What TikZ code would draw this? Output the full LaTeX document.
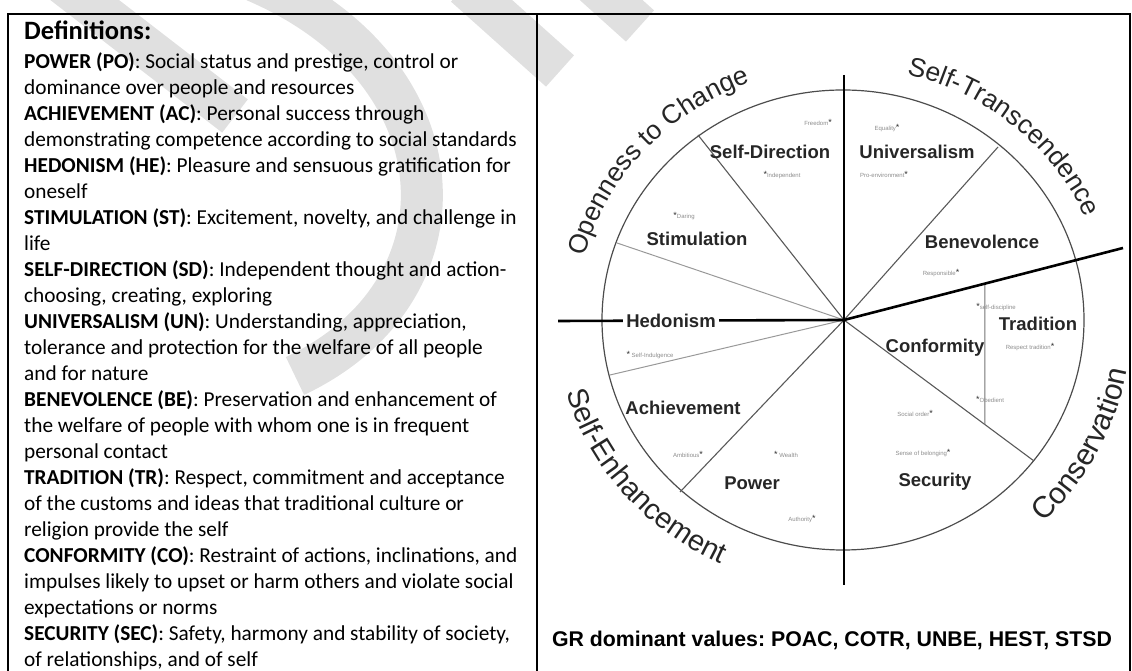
\documentclass[tikz,border=0pt]{standalone}
\usepackage{fontspec}
\setmainfont{Carlito}
\newfontfamily\arialfont{Liberation Sans}
\usetikzlibrary{calc,decorations.text}

\newcommand{\dotmark}{\textcolor{black!80}{\fontsize{9}{9}\selectfont*}}

\tikzset{
  value/.style={font=\arialfont\bfseries\fontsize{18.5}{20}\selectfont, text=black!85, inner sep=1pt},
  item/.style={font=\arialfont\fontsize{6}{7}\selectfont, text=black!45, inner sep=0pt},
  sector/.style={draw=black!65, line width=1.1pt},
  faint/.style={draw=black!40, line width=1pt},
  axis/.style={draw=black, line width=2.6pt},
  group/.style={decorate, decoration={text along path, text align=center, text color=black!85}},
  watermark/.style={draw=black!12, line width=42pt},
}

\begin{document}
\frenchspacing
\begin{tikzpicture}[x=1pt,y=1pt]
  \useasboundingbox (0,0) rectangle (1132,671);

  % watermark behind everything
  \draw[watermark] (60,690) -- (235,555);
  \draw[watermark] (255,690) .. controls (465,600) and (475,380) .. (295,295);
  \draw[watermark] (465,685) -- (560,600);
  \draw[watermark] (590,690) -- (640,645);

  % table frame
  \draw[line width=1.6pt] (8,0) -- (8,657) -- (1130,657) -- (1130,0);
  \draw[line width=1.6pt] (537,657) -- (537,0);

  % definitions
  \node[anchor=base west, inner sep=0pt, font=\bfseries\fontsize{26.5}{30}\selectfont] (title) at (24,631) {Definitions:};
  \node[anchor=north west, inner sep=0pt, align=left, font=\fontsize{21.3}{26}\selectfont] (defs) at (24,619) {%
    \textbf{POWER (PO)}: Social status and prestige, control or\\
    dominance over people and resources\\
    \textbf{ACHIEVEMENT (AC)}: Personal success through\\
    demonstrating competence according to social standards\\
    \textbf{HEDONISM (HE)}: Pleasure and sensuous gratification for\\
    oneself\\
    \textbf{STIMULATION (ST)}: Excitement, novelty, and challenge in\\
    life\\
    \textbf{SELF-DIRECTION (SD)}: Independent thought and action-\\
    choosing, creating, exploring\\
    \textbf{UNIVERSALISM (UN)}: Understanding, appreciation,\\
    tolerance and protection for the welfare of all people\\
    and for nature\\
    \textbf{BENEVOLENCE (BE)}: Preservation and enhancement of\\
    the welfare of people with whom one is in frequent\\
    personal contact\\
    \textbf{TRADITION (TR)}: Respect, commitment and acceptance\\
    of the customs and ideas that traditional culture or\\
    religion provide the self\\
    \textbf{CONFORMITY (CO)}: Restraint of actions, inclinations, and\\
    impulses likely to upset or harm others and violate social\\
    expectations or norms\\
    \textbf{SECURITY (SEC)}: Safety, harmony and stability of society,\\
    of relationships, and of self};

  % wheel
  \coordinate (c) at (844,351);
  \coordinate (sdst) at (698,536);
  \coordinate (sthe) at (617,428);
  \coordinate (heac) at (610,296);
  \coordinate (acpo) at (680,179);
  \coordinate (unbe) at (998,524);
  \coordinate (cose) at (1034,210);
  \coordinate (trend) at (1123,423);
  \coordinate (top) at (844,596);
  \coordinate (bottom) at (844,86);
  \coordinate (left) at (558,350);
  \coordinate (trtop) at ($(c)!0.505!(trend)$);
  \coordinate (trbot) at ($(c)!0.742!(cose)$);

  \draw[draw=black!70, line width=1.2pt] (843,351) ellipse [x radius=241, y radius=230];

  \draw[sector] (c) -- (sdst);
  \draw[faint] (c) -- (sthe);
  \draw[faint] (c) -- (heac);
  \draw[sector] (c) -- (acpo);
  \draw[sector] (c) -- (unbe);
  \draw[sector] (c) -- (cose);
  \draw[faint, draw=black!55] (trtop) -- (trbot);

  \draw[axis] (top) -- (bottom);
  \draw[axis] (c) -- (trend);
  \draw[axis] (left) -- (c);

  \node[value] (sd) at (770,519) {Self-Direction};
  \node[value] (un) at (917,519) {Universalism};
  \node[value] (st) at (697,432) {Stimulation};
  \node[value] (be) at (982,429) {Benevolence};
  \node[value, fill=white, inner xsep=3pt] (he) at (671,350) {Hedonism};
  \node[value] (tr) at (1038,347) {Tradition};
  \node[value] (co) at (935,323) {Conformity};
  \node[value] (ac) at (683,263) {Achievement};
  \node[value] (po) at (752,188) {Power};
  \node[value] (se) at (935,189) {Security};

  \node[item] (freedom) at (818,549) {Freedom\dotmark};
  \node[item] (indep) at (782,496) {\dotmark Independent};
  \node[item] (daring) at (684,455) {\dotmark Daring};
  \node[item] (equal) at (887,543) {Equality\dotmark};
  \node[item] (proenv) at (884,497) {Pro-environment\dotmark};
  \node[item] (resp) at (941,398) {Responsible\dotmark};
  \node[item] (selfdis) at (996,364) {\dotmark self-discipline};
  \node[item] (resptr) at (1030,324) {Respect tradition\dotmark};
  \node[item] (obed) at (990,272) {\dotmark Obedient};
  \node[item] (order) at (915,258) {Social order\dotmark};
  \node[item] (belong) at (923,218) {Sense of belonging\dotmark};
  \node[item] (indulg) at (650,316) {\dotmark\ Self-Indulgence};
  \node[item] (ambit) at (688,217) {Ambitious\dotmark};
  \node[item] (wealth) at (786,217) {\dotmark\ Wealth};
  \node[item] (auth) at (802,152) {Authority\dotmark};

  % higher order groups
  \path[group, decoration={text={|\arialfont\fontsize{26.5}{28}\selectfont|Openness to Change}}]
    (c) ++(185:268 and 253) arc[start angle=185, end angle=92, x radius=268, y radius=253];
  \path[group, decoration={text={|\arialfont\fontsize{26.5}{28}\selectfont|Self-Transcendence}}]
    (c) ++(95:264 and 253) arc[start angle=95, end angle=4.5, x radius=264, y radius=253];
  \path[group, decoration={text={|\arialfont\fontsize{30}{32}\selectfont|Conservation}}]
    (c) ++(-77:288 and 280) arc[start angle=-77, end angle=21, x radius=288, y radius=280];
  \path[group, decoration={text={|\arialfont\fontsize{29}{31}\selectfont|Self-Enhancement}}]
    (c) ++(175:288 and 270) arc[start angle=175, end angle=264, x radius=288, y radius=270];

  \node[font=\arialfont\bfseries\fontsize{21.3}{24}\selectfont] (gr) at (832,31) {GR dominant values: POAC, COTR, UNBE, HEST, STSD};
\end{tikzpicture}
\end{document}
